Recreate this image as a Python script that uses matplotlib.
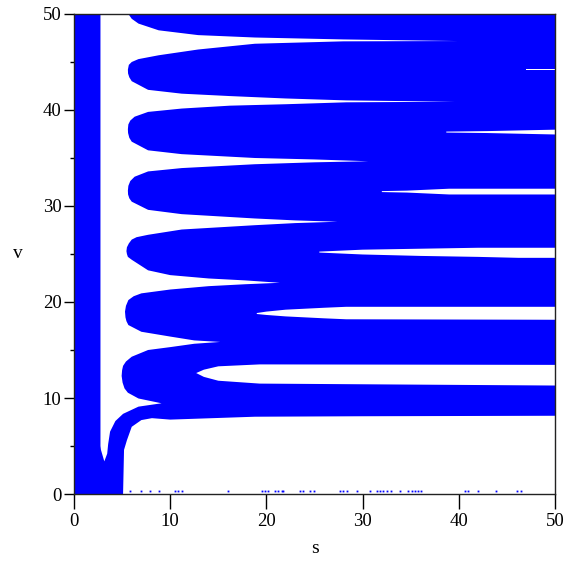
import matplotlib
matplotlib.use("Agg")
import matplotlib.pyplot as plt
from matplotlib.ticker import MultipleLocator

BLUE = "#0000ff"

# white "comb" between the left strip and the lobes (s, v)
comb_s = [2.75, 2.75, 2.8, 3.15, 3.45, 3.55, 3.75, 4.3, 5.1, 6.7, 9.1,
          6.7, 5.6, 5.25, 5.05, 4.95,
          5.0, 5.1, 5.4, 6.0, 7.7, 10.0, 12.5, 15.2,
          12.5, 10.0, 7.0, 5.65, 5.45, 5.35, 5.3,
          5.4, 5.65, 6.2, 7.0, 10.0, 14.0, 17.8, 21.4,
          17.8, 14.0, 10.0, 7.7, 6.0, 5.6, 5.5, 5.45,
          5.5, 5.7, 6.0, 6.5, 7.7, 11.2, 18.8, 23.0, 27.4,
          23.0, 18.8, 11.2, 7.7, 6.0, 5.75, 5.62, 5.6,
          5.65, 5.85, 6.3, 7.7, 11.2, 18.8, 25.0, 30.6,
          25.0, 18.8, 11.2, 7.7, 6.0, 5.75, 5.62, 5.6,
          5.65, 5.85, 6.3, 7.7, 11.2, 16.2, 22.0, 28.3, 39.6,
          28.3, 22.0, 16.2, 11.2, 7.7, 6.0, 5.75, 5.62, 5.6,
          5.7, 6.0, 6.7, 8.8, 12.9, 18.8, 28.0, 39.9,
          28.0, 18.8, 12.9, 8.8, 6.7, 6.0, 5.65]
comb_v = [50.0, 5.0, 4.6, 3.4, 4.2, 5.2, 6.5, 7.6, 8.35, 9.1, 9.45,
          9.95, 10.55, 11.0, 11.6, 12.3,
          12.9, 13.35, 13.8, 14.3, 15.0, 15.3, 15.65, 15.84,
          16.0, 16.4, 16.9, 17.6, 18.0, 18.4, 19.0,
          19.6, 20.2, 20.6, 20.9, 21.3, 21.65, 21.85, 22.0,
          22.25, 22.45, 22.8, 23.3, 24.4, 24.7, 25.0, 25.3,
          25.7, 26.1, 26.5, 26.75, 27.0, 27.55, 28.0, 28.22, 28.36,
          28.5, 28.7, 29.15, 29.6, 30.45, 30.8, 31.2, 31.6,
          32.1, 32.6, 33.05, 33.6, 33.95, 34.35, 34.55, 34.66,
          34.85, 35.0, 35.4, 35.8, 36.7, 37.1, 37.6, 38.0,
          38.5, 38.9, 39.3, 39.8, 40.15, 40.45, 40.6, 40.8, 40.86,
          41.0, 41.2, 41.45, 41.7, 42.1, 43.0, 43.4, 43.8, 44.2,
          44.7, 45.0, 45.3, 45.7, 46.3, 46.9, 47.15, 47.18,
          47.35, 47.55, 47.8, 48.3, 49.0, 49.5, 50.0]

# white area under the main blue block
floor_s = [5.1, 5.2, 5.5, 6.0, 7.0, 8.1, 10.0, 18.8, 30.0, 50.0, 50.0]
floor_v = [0.0, 4.6, 5.6, 7.0, 7.7, 7.9, 7.75, 8.05, 8.1, 8.15, 0.0]

# slits coming in from the right edge: s, upper v, lower v
slit2_s = [12.7, 13.5, 15.0, 19.3, 50.0]
slit2_hi = [12.6, 12.95, 13.3, 13.5, 13.45]
slit2_lo = [12.6, 12.2, 11.8, 11.5, 11.3]

slit3_s = [19.0, 20.0, 22.0, 26.0, 28.3, 50.0]
slit3_hi = [18.85, 19.0, 19.2, 19.4, 19.5, 19.5]
slit3_lo = [18.75, 18.65, 18.5, 18.3, 18.2, 18.15]

slit4_s = [25.5, 30.0, 36.0, 42.0, 46.2, 50.0]
slit4_hi = [25.25, 25.45, 25.55, 25.65, 25.65, 25.65]
slit4_lo = [25.15, 24.95, 24.8, 24.7, 24.6, 24.6]

slit5_s = [32.0, 34.6, 39.0, 50.0]
slit5_hi = [31.55, 31.6, 31.8, 31.8]
slit5_lo = [31.45, 31.4, 31.2, 31.2]

slit6_s = [38.7, 42.9, 50.0]
slit6_hi = [37.75, 37.8, 37.95]
slit6_lo = [37.65, 37.6, 37.45]

slit7_s = [47.0, 50.0]
slit7_hi = [44.25, 44.25]
slit7_lo = [44.15, 44.15]

slits = [(slit2_s, slit2_hi, slit2_lo), (slit3_s, slit3_hi, slit3_lo),
         (slit4_s, slit4_hi, slit4_lo), (slit5_s, slit5_hi, slit5_lo),
         (slit6_s, slit6_hi, slit6_lo), (slit7_s, slit7_hi, slit7_lo)]

# stray specks along v = 0
dot_s = [5.8, 7.0, 7.9, 8.8, 10.5, 10.8, 11.2, 16.0, 19.5, 19.85, 20.2,
         20.9, 21.2, 21.6, 21.75, 23.5, 23.8, 24.5, 24.9, 27.65, 28.0,
         28.35, 29.4, 30.8, 31.5, 31.8, 32.15, 32.5, 33.0, 33.9, 34.75,
         35.1, 35.45, 35.8, 36.1, 40.6, 41.0, 42.0, 43.9, 46.0, 46.5]
dot_level = 0.3

plt.rcParams['font.family'] = ['Liberation Serif', 'DejaVu Serif']

fig = plt.figure(figsize=(5.68, 5.64), dpi=100)
ax = fig.add_axes([0.1303, 0.1241, 0.8468, 0.8511])
ax.set_facecolor(BLUE)

ax.fill(comb_s, comb_v, color="white", lw=0)
ax.fill(floor_s, floor_v, color="white", lw=0)
for ss, hi, lo in slits:
    ax.fill(ss + ss[::-1], hi + lo[::-1], color="white", lw=0)

ax.plot(dot_s, [dot_level] * len(dot_s), "s", ms=1.3, color=BLUE, mew=0)

ax.set_xlim(0, 50)
ax.set_ylim(0, 50)
ax.xaxis.set_major_locator(MultipleLocator(10))
ax.yaxis.set_major_locator(MultipleLocator(10))
ax.yaxis.set_minor_locator(MultipleLocator(5))
ax.tick_params(axis="x", which="major", length=11, width=1, pad=3, labelsize=13.5)
ax.tick_params(axis="y", which="major", length=7, width=1, pad=2, labelsize=13.5)
ax.tick_params(axis="y", which="minor", length=3, width=1)
for sp in ax.spines.values():
    sp.set_color("#222222")
    sp.set_linewidth(1)

ax.set_xlabel("s", fontsize=14, labelpad=7)
ax.set_ylabel("v", fontsize=14, rotation=0, labelpad=18, va="center")

fig.savefig("out.png", dpi=100)
